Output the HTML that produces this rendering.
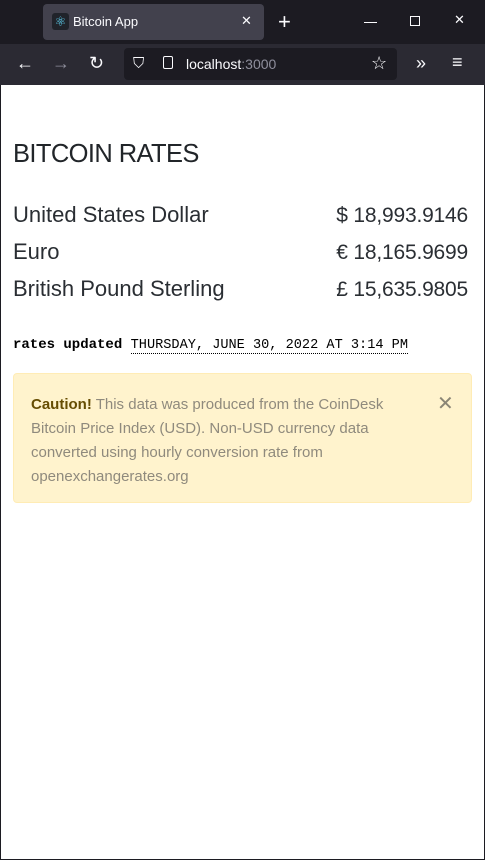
<!DOCTYPE html>
<html><head><meta charset="utf-8"><style>
*{box-sizing:border-box;margin:0;padding:0}
body{width:485px;height:860px;overflow:hidden;background:#1c1b22;font-family:"Liberation Sans",sans-serif;position:relative}
.abs{position:absolute}
#titlebar{left:0;top:0;width:485px;height:44px;background:#1c1b22}
#tab{left:43px;top:4px;width:221px;height:36px;background:#42414d;border-radius:4px}
#toolbar{left:0;top:44px;width:485px;height:41px;background:#2b2a33}
#url{left:124px;top:48px;width:273px;height:32px;background:#1c1b22;border-radius:4px}
#page{left:1px;top:85px;width:483px;height:774px;background:#fff}
.ic{color:#fbfbfe;font-size:18px}
h1{position:absolute;left:13px;top:140px;font-size:25.5px;font-weight:normal;color:#212529;letter-spacing:-0.6px}
.row{position:absolute;left:13px;width:455px;font-size:22px;color:#2a2e33;display:flex;justify-content:space-between;align-items:baseline}
.row span+span{font-size:21px;letter-spacing:-0.2px}
.upd{position:absolute;left:13px;top:337px;font-family:"Liberation Mono",monospace;font-size:14px;color:#000}
.upd b{font-weight:bold}
.upd span{border-bottom:1px dotted #000;font-size:13.6px}
#alert{left:13px;top:373px;width:459px;height:130px;background:#fff3cd;border:1px solid #ffecb5;border-radius:4px}
#alert p{position:absolute;left:17px;top:19px;width:375px;font-size:15px;line-height:24px;color:#8f8a7d}
#alert p b{color:#664d03}
</style></head><body>
<div id="titlebar" class="abs"></div>
<div id="tab" class="abs">
 <div class="abs" style="left:9px;top:9px;width:17px;height:17px;background:#20232a;border-radius:3px;color:#61dafb;font-size:13px;text-align:center;line-height:17px">⚛</div>
 <div class="abs" style="left:30px;top:10px;color:#fbfbfe;font-size:13px">Bitcoin App</div>
 <div class="abs" style="left:198px;top:9px;color:#fbfbfe;font-size:13px">✕</div>
</div>
<div class="abs ic" style="left:278px;top:9px;font-size:22px">+</div>
<div class="abs" style="left:364px;top:22px;width:13px;height:1px;background:#fbfbfe"></div>
<div class="abs" style="left:410px;top:16px;width:10px;height:10px;border:1px solid #fbfbfe"></div>
<div class="abs ic" style="left:454px;top:12px;font-size:13px">✕</div>
<div id="toolbar" class="abs"></div>
<div class="abs ic" style="left:16px;top:53px">←</div>
<div class="abs ic" style="left:52px;top:53px;color:#8f8f9d">→</div>
<div class="abs ic" style="left:89px;top:53px">↻</div>
<div id="url" class="abs">
 <div class="abs" style="left:9px;top:7px;color:#fbfbfe;font-size:15px">⛉</div>
 <div class="abs" style="left:39px;top:8px;width:10px;height:13px;border:1.5px solid #fbfbfe;border-radius:2px"></div>
 <div class="abs" style="left:62px;top:8px;font-size:14px;color:#fbfbfe">localhost<span style="color:#8f8f9d">:3000</span></div>
 <div class="abs" style="left:247px;top:5px;color:#fbfbfe;font-size:18px">☆</div>
</div>
<div class="abs ic" style="left:416px;top:53px">»</div>
<div class="abs ic" style="left:452px;top:52px">≡</div>
<div id="page" class="abs"></div>
<h1>BITCOIN RATES</h1>
<div class="row" style="top:202px"><span>United States Dollar</span><span>$ 18,993.9146</span></div>
<div class="row" style="top:239px"><span>Euro</span><span>€ 18,165.9699</span></div>
<div class="row" style="top:276px"><span>British Pound Sterling</span><span>£ 15,635.9805</span></div>
<div class="upd"><b>rates updated</b> <span>THURSDAY, JUNE 30, 2022 AT 3:14 PM</span></div>
<div id="alert" class="abs">
 <p><b>Caution!</b> This data was produced from the CoinDesk Bitcoin Price Index (USD). Non-USD currency data converted using hourly conversion rate from openexchangerates.org</p>
 <div class="abs" style="left:423px;top:17px;font-size:20px;color:#8a8575">✕</div>
</div>
</body></html>
